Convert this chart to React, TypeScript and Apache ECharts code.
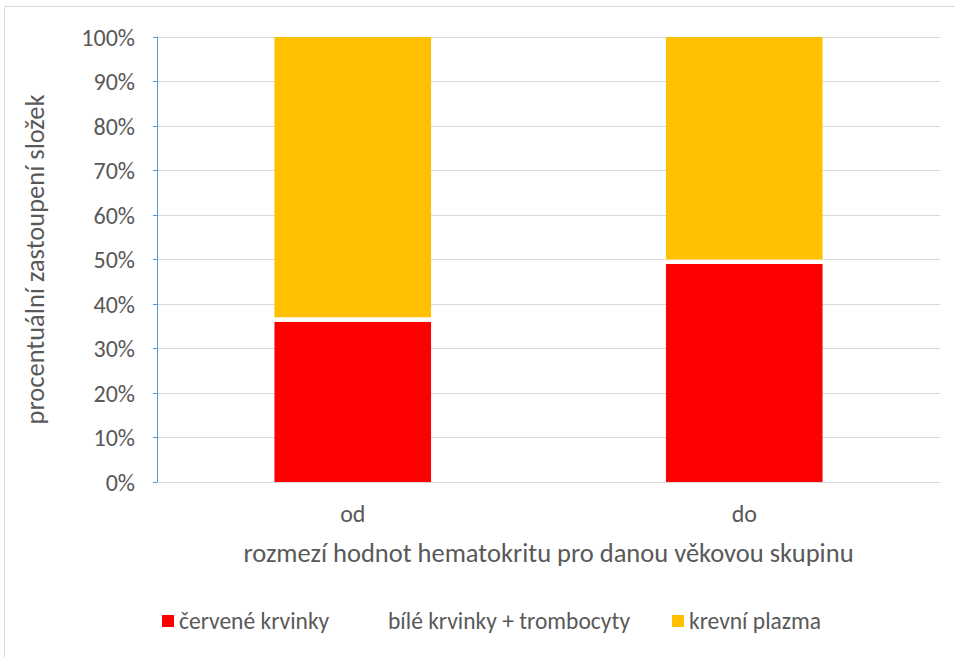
import React, { useEffect, useRef } from "react";
import * as echarts from "echarts";

const categories = ["od", "do"];
const cervene = [36, 49];
const bile = [1, 1];
const plazma = [63, 50];
const seriesNames = ["červené krvinky", "bílé krvinky + trombocyty", "krevní plazma"];

const FONT = "Carlito, 'Liberation Sans Narrow', 'Open Sans', sans-serif";

export default function App() {
  const ref = useRef<HTMLDivElement>(null);
  useEffect(() => {
    document.body.style.margin = "0";
    const chart = echarts.init(ref.current!, null, { renderer: "svg" });
    const legendText = { color: "#595959", fontSize: 23.5, fontFamily: FONT };
    chart.setOption({
      animation: false,
      backgroundColor: "#ffffff",
      textStyle: { fontFamily: FONT },
      graphic: [
        {
          type: "rect",
          shape: { x: 4.5, y: 6.5, width: 970, height: 670 },
          style: { fill: "none", stroke: "#D9D9D9", lineWidth: 1 },
          silent: true,
        },
      ],
      grid: { left: 157, top: 37, right: 15, bottom: 175 },
      legend: [
        {
          data: [seriesNames[0]],
          left: 157, top: 604,
          icon: "rect", itemWidth: 12, itemHeight: 12, itemGap: 8,
          textStyle: legendText,
        },
        {
          data: [seriesNames[1]],
          left: 366, top: 604,
          icon: "rect", itemWidth: 12, itemHeight: 12, itemGap: 8,
          textStyle: legendText,
        },
        {
          data: [seriesNames[2]],
          left: 667, top: 604,
          icon: "rect", itemWidth: 12, itemHeight: 12, itemGap: 8,
          textStyle: legendText,
        },
      ],
      xAxis: {
        type: "category",
        data: categories,
        name: "rozmezí hodnot hematokritu pro danou věkovou skupinu",
        nameLocation: "middle",
        nameGap: 57,
        nameTextStyle: { color: "#595959", fontSize: 26.5, fontFamily: FONT },
        axisLine: { show: true, lineStyle: { color: "#D9D9D9" } },
        axisTick: { show: false },
        axisLabel: { color: "#595959", fontSize: 24, margin: 19, fontFamily: FONT },
      },
      yAxis: {
        type: "value",
        min: 0,
        max: 100,
        interval: 10,
        name: "procentuální zastoupení složek",
        nameLocation: "middle",
        nameGap: 109,
        nameTextStyle: { color: "#595959", fontSize: 26.5, fontFamily: FONT },
        axisLine: { show: true, lineStyle: { color: "#5B9BD5" } },
        axisTick: { show: true, inside: false, length: 4, lineStyle: { color: "#5B9BD5" } },
        axisLabel: { color: "#595959", fontSize: 24, margin: 22, formatter: "{value}%", fontFamily: FONT },
        splitLine: { show: true, lineStyle: { color: "#D9D9D9" } },
      },
      series: [
        { name: seriesNames[0], type: "bar", stack: "total", data: cervene, barWidth: "40%", itemStyle: { color: "#FF0000" } },
        { name: seriesNames[1], type: "bar", stack: "total", data: bile, barWidth: "40%", itemStyle: { color: "#FFFFFF" } },
        { name: seriesNames[2], type: "bar", stack: "total", data: plazma, barWidth: "40%", itemStyle: { color: "#FFC000" } },
      ],
    });
    return () => chart.dispose();
  }, []);
  return <div ref={ref} style={{ position: "fixed", left: 0, top: 0, width: 955, height: 657 }} />;
}
